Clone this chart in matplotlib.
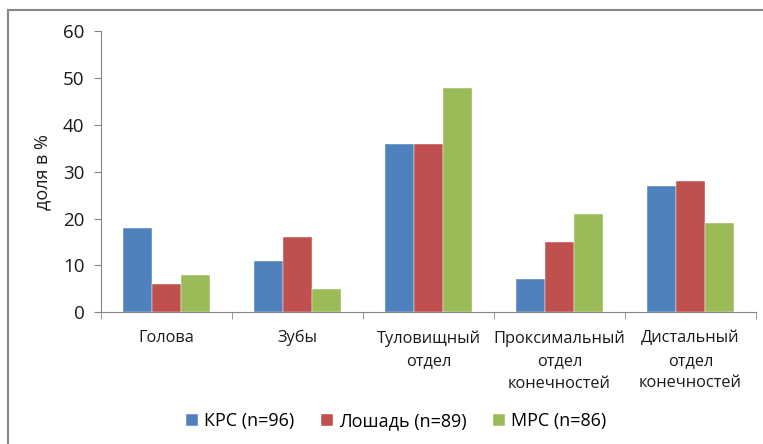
import matplotlib
matplotlib.use("Agg")
import matplotlib.pyplot as plt
import numpy as np
from matplotlib.lines import Line2D

plt.rcParams["font.family"] = ["Open Sans", "DejaVu Sans"]

# данные
categories = ["Голова", "Зубы", "Туловищный\nотдел", "Проксимальный\nотдел\nконечностей",
              "Дистальный\nотдел\nконечностей"]
series_names = ["КРС (n=96)", "Лошадь (n=89)", "МРС (n=86)"]
krs = [18, 11, 36, 7, 27]
horse = [6, 16, 36, 15, 28]
mrs = [8, 5, 48, 21, 19]
colors = ["#4F81BD", "#C0504D", "#9BBB59"]

fig = plt.figure(figsize=(7.63, 4.44), dpi=100)
ax = fig.add_axes([101 / 763, 1 - 312 / 444, 655 / 763, 280.5 / 444])

x = np.arange(len(categories))
w = 0.222
for i, (vals, name) in enumerate(zip([krs, horse, mrs], series_names)):
    ax.bar(x + (i - 1) * w, vals, width=w, color=colors[i], label=name,
           edgecolor="white", linewidth=0.3, zorder=2)

ax.set_xlim(-0.5, len(categories) - 0.5)
ax.set_ylim(0, 60)
ax.set_yticks(range(0, 61, 10))
ax.set_xticks(x)
ax.set_xticklabels(categories, fontsize=11.8, linespacing=1.56, color="#1a1a1a")
ax.set_xticks(np.arange(-0.5, len(categories), 1), minor=True)
ax.tick_params(axis="x", which="major", length=0, pad=13)
ax.tick_params(axis="x", which="minor", length=5, color="#868686")
ax.tick_params(axis="y", length=5, color="#868686", labelsize=13.5, pad=7, labelcolor="#1a1a1a")

for s in ["top", "right"]:
    ax.spines[s].set_visible(False)
for s in ["left", "bottom"]:
    ax.spines[s].set_color("#868686")

ax.set_ylabel("доля в %", fontsize=13, color="#1a1a1a", labelpad=8)

handles, labels = ax.get_legend_handles_labels()
fig.legend(handles, labels, loc="center", bbox_to_anchor=(396 / 763, 1 - 421 / 444),
           ncol=3, frameon=False, fontsize=13, handlelength=0.67, handleheight=0.67,
           handletextpad=0.33, columnspacing=1.45)

# рамка диаграммы
fig.add_artist(Line2D([8 / 763, 8 / 763], [0, 1 - 10 / 444], color="#868686", lw=1.5,
                      transform=fig.transFigure))
fig.add_artist(Line2D([8 / 763, 1], [1 - 10 / 444, 1 - 10 / 444], color="#868686", lw=1.5,
                      transform=fig.transFigure))

fig.savefig("out.png", dpi=100)
